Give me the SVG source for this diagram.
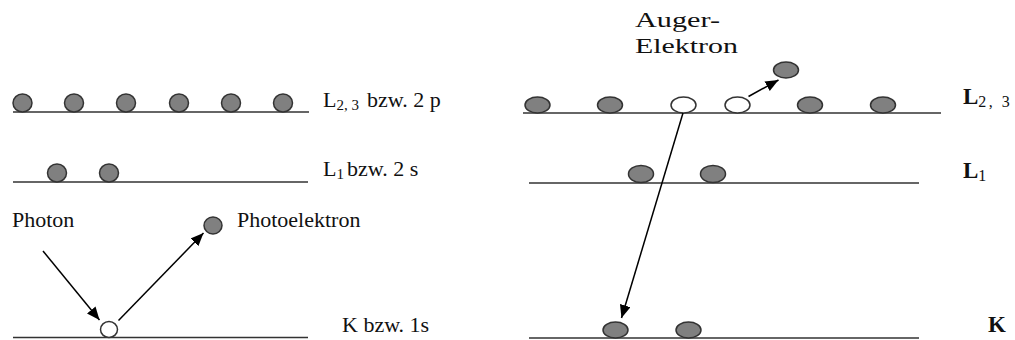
<svg xmlns="http://www.w3.org/2000/svg" width="1015" height="340" viewBox="0 0 1015 340">
<defs>
<marker id="ah" markerUnits="userSpaceOnUse" markerWidth="14" markerHeight="12" refX="13" refY="5.5" orient="auto">
<path d="M0,0 L13,5.5 L0,11 z" fill="#000"/>
</marker>
<style>
.lvl{stroke:#333;stroke-width:1.6;fill:none}
.e{fill:#808080;stroke:#333;stroke-width:1.5}
.h{fill:#fff;stroke:#333;stroke-width:1.5}
.arr{stroke:#000;stroke-width:1.5;fill:none;marker-end:url(#ah)}
.t{font-family:"Liberation Serif",serif;font-size:22px;fill:#111}
.tb{font-family:"Liberation Serif",serif;font-size:23px;font-weight:bold;fill:#111}
.sub{font-size:15px}
.subn{font-size:16px;font-weight:normal}
</style>
</defs>
<rect width="1015" height="340" fill="#fff"/>
<g id="levels-left">
<line class="lvl" x1="13" y1="112" x2="309" y2="112"/>
<line class="lvl" x1="13" y1="182" x2="308" y2="182"/>
<line class="lvl" x1="13" y1="337.5" x2="308" y2="337.5"/>
</g>
<g id="levels-right">
<line class="lvl" x1="523" y1="113" x2="941" y2="113"/>
<line class="lvl" x1="529" y1="183" x2="919" y2="183"/>
<line class="lvl" x1="529" y1="338" x2="919" y2="338"/>
</g>
<g id="electrons-left">
<ellipse class="e" cx="22.5" cy="103" rx="9.5" ry="9"/>
<ellipse class="e" cx="74" cy="103" rx="9.5" ry="9"/>
<ellipse class="e" cx="126" cy="103" rx="9.5" ry="9"/>
<ellipse class="e" cx="179" cy="103" rx="9.5" ry="9"/>
<ellipse class="e" cx="231" cy="103" rx="9.5" ry="9"/>
<ellipse class="e" cx="283" cy="103" rx="9.5" ry="9"/>
<ellipse class="e" cx="57" cy="173" rx="9.5" ry="9"/>
<ellipse class="e" cx="109" cy="173" rx="9.5" ry="9"/>
<ellipse class="h" cx="109" cy="329.5" rx="8.5" ry="8"/>
<ellipse class="e" cx="213" cy="225.5" rx="9" ry="8.5"/>
</g>
<g id="electrons-right">
<ellipse class="e" cx="537.5" cy="105" rx="12.5" ry="8"/>
<ellipse class="e" cx="610" cy="105" rx="12.5" ry="8"/>
<ellipse class="h" cx="683.5" cy="105" rx="12.5" ry="8"/>
<ellipse class="h" cx="737.5" cy="105" rx="12.5" ry="8"/>
<ellipse class="e" cx="810" cy="105" rx="12.5" ry="8"/>
<ellipse class="e" cx="883" cy="105" rx="12.5" ry="8"/>
<ellipse class="e" cx="786" cy="70" rx="12.5" ry="8"/>
<ellipse class="e" cx="641" cy="174" rx="12.5" ry="8.5"/>
<ellipse class="e" cx="713" cy="174" rx="12.5" ry="8.5"/>
<ellipse class="e" cx="615.5" cy="330" rx="12.5" ry="8"/>
<ellipse class="e" cx="688.5" cy="330" rx="12.5" ry="8"/>
</g>
<g id="connectors">
<line class="arr" x1="43" y1="251" x2="99.5" y2="320"/>
<line class="arr" x1="118.5" y1="320.5" x2="203.5" y2="233"/>
<line class="arr" x1="683" y1="113" x2="621.5" y2="318"/>
<line class="arr" x1="748.5" y1="96.5" x2="778.5" y2="80"/>
</g>
<g id="labels-left">
<text class="t" x="12" y="227">Photon</text>
<text class="t" x="237" y="227">Photoelektron</text>
<text class="t" x="323" y="107">L<tspan class="sub" dy="3">2, 3</tspan><tspan x="367" dy="-3">bzw. 2 p</tspan></text>
<text class="t" x="323" y="176">L<tspan class="sub" dy="3">1</tspan><tspan x="347" dy="-3">bzw. 2 s</tspan></text>
<text class="t" x="342" y="332">K bzw. 1s</text>
</g>
<g id="labels-right">
<text class="t" x="635" y="27" font-size="24" textLength="85" lengthAdjust="spacingAndGlyphs">Auger-</text>
<text class="t" x="635" y="53" font-size="24" textLength="103" lengthAdjust="spacingAndGlyphs">Elektron</text>
<text class="tb" x="963" y="104">L<tspan class="subn" dy="3" letter-spacing="2.5">2, 3</tspan></text>
<text class="tb" x="963" y="178">L<tspan class="subn" dy="3">1</tspan></text>
<text class="tb" x="988" y="332">K</text>
</g>
</svg>
